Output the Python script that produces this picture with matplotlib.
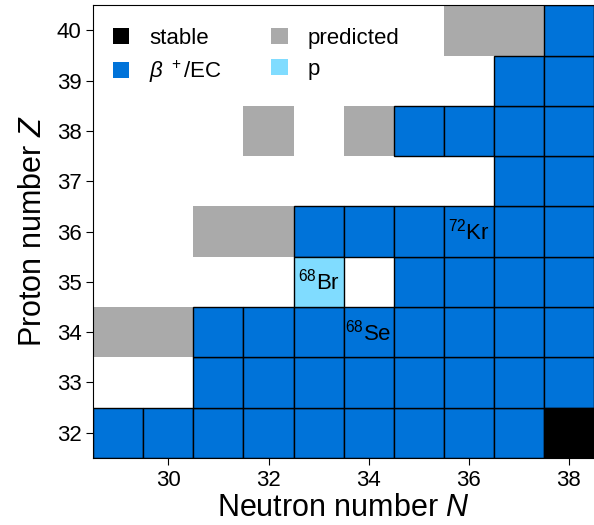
import matplotlib.pyplot as plt
from matplotlib.patches import Patch
import numpy as np

plt.rcParams['font.family'] = ['Liberation Sans', 'DejaVu Sans']
plt.rcParams['mathtext.fontset'] = 'custom'
plt.rcParams['mathtext.rm'] = 'Liberation Sans'
plt.rcParams['mathtext.it'] = 'Liberation Sans:italic'

# nuclide cells as (N, Z)
stable_N = [38]
stable_Z = [32]

beta_N = list(range(29, 38)) + list(range(31, 39)) + list(range(31, 39)) \
    + [35, 36, 37, 38] + list(range(33, 39)) + [37, 38] + [35, 36, 37, 38] + [37, 38] + [38]
beta_Z = [32] * 9 + [33] * 8 + [34] * 8 + [35] * 4 + [36] * 6 + [37] * 2 + [38] * 4 + [39] * 2 + [40]

proton_N = [33]
proton_Z = [35]

predicted_N = [29, 30, 31, 32, 32, 34, 36, 37]
predicted_Z = [34, 34, 36, 36, 38, 38, 40, 40]

labels = [(33, 35, '$^{68}$Br'), (34, 34, '$^{68}$Se'), (36, 36, '$^{72}$Kr')]

c_stable, c_beta, c_p, c_pred = 'black', '#0073d9', '#80dcff', '#aaaaaa'

fig = plt.figure(figsize=(5.94, 5.25), dpi=100)
ax = fig.add_axes([0.157, 0.128, 0.843, 0.862])

ax.bar(predicted_N, 1, bottom=np.array(predicted_Z) - 0.5, width=1,
       color=c_pred, edgecolor='none', zorder=1)
ax.bar(beta_N, 1, bottom=np.array(beta_Z) - 0.5, width=1,
       color=c_beta, edgecolor='black', linewidth=1, zorder=2)
ax.bar(proton_N, 1, bottom=np.array(proton_Z) - 0.5, width=1,
       color=c_p, edgecolor='black', linewidth=1, zorder=2)
ax.bar(stable_N, 1, bottom=np.array(stable_Z) - 0.5, width=1,
       color=c_stable, edgecolor='black', linewidth=1, zorder=2)

for n, z, t in labels:
    ax.text(n, z, t, ha='center', va='center', fontsize=16, zorder=3)

ax.set_xlim(28.5, 38.5)
ax.set_ylim(31.5, 40.5)
ax.set_xticks([30, 32, 34, 36, 38])
ax.set_yticks(range(32, 41))
ax.tick_params(labelsize=16, length=5)
ax.set_xlabel('Neutron number $N$', fontsize=22, labelpad=2)
ax.set_ylabel('Proton number $Z$', fontsize=22, labelpad=6)

handles = [Patch(facecolor=c_stable, edgecolor='none', label='stable'),
           Patch(facecolor=c_beta, edgecolor='none', label=r'$\beta\ ^+$/EC'),
           Patch(facecolor=c_pred, edgecolor='none', label='predicted'),
           Patch(facecolor=c_p, edgecolor='none', label='p')]
ax.legend(handles=handles, ncol=2, loc='upper left',
          frameon=False, fontsize=16, handlelength=0.75, handleheight=0.75,
          handletextpad=0.9, columnspacing=2.2, labelspacing=0.45,
          borderaxespad=0.3, bbox_to_anchor=(0.008, 0.985))

fig.savefig('out.png', dpi=100)
